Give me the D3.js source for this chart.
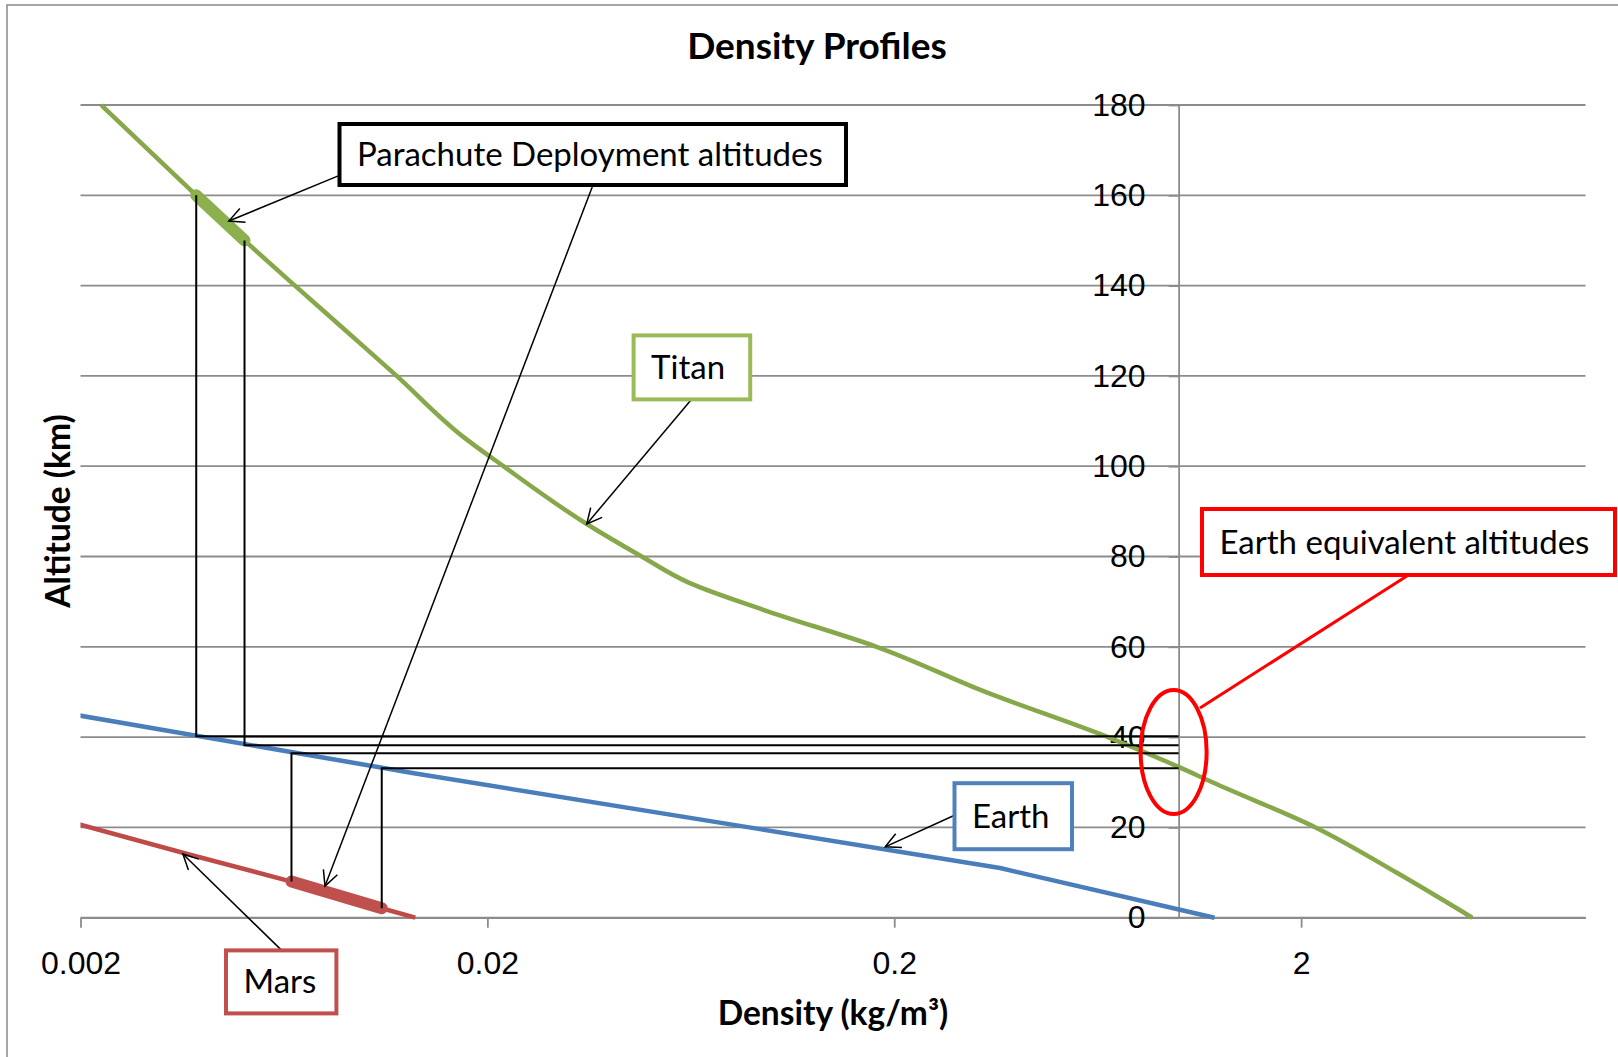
<!DOCTYPE html>
<html>
<head>
<meta charset="utf-8">
<script src="https://cdnjs.cloudflare.com/ajax/libs/d3/7.8.5/d3.min.js"></script>
<style>
    body { margin: 0; background: #fff; }
    svg { display: block; font-family: Lato, "Open Sans", sans-serif; }
</style>
</head>
<body>
<div id="chart"></div>
<script>
// Density profiles of Titan, Earth and Mars (log density vs altitude)

const xTicks = [0.002, 0.02, 0.2, 2];
const xTickLabels = ['0.002', '0.02', '0.2', '2'];
const yTicks = [0, 20, 40, 60, 80, 100, 120, 140, 160, 180];

const titanAlt = [180, 160, 150, 140, 130, 120, 106.5, 100, 87.2, 80, 74.1, 68.2, 60, 50, 40, 33.4, 30, 20, 10, 0];
const titanDensity = [0.00225, 0.00385, 0.00506, 0.00673, 0.00898, 0.01197, 0.01745, 0.0219, 0.0351, 0.0479, 0.0629, 0.0953, 0.181, 0.335, 0.67, 1.0, 1.21, 2.17, 3.43, 5.27];

const earthAlt = [0, 11, 20, 32, 47];
const earthDensity = [1.225, 0.364, 0.088, 0.0132, 0.00143];

const marsAlt = [0, 2.1, 8, 14, 22];
const marsDensity = [0.0133, 0.011, 0.0066, 0.0037, 0.00175];

// parachute deployment points and their Earth equivalent altitudes
const deployPlanet = ['Titan', 'Titan', 'Mars', 'Mars'];
const deployAlt = [160, 150, 8, 2.1];
const deployDensity = [0.00385, 0.00506, 0.0066, 0.011];
const earthEquivAlt = [40.2, 38.2, 36.4, 33.1];

const W = 1618, H = 1057;
const plot = { left: 80.5, right: 1585.5, top: 105, bottom: 917.7 };

const svg = d3.select('#chart').append('svg')
    .attr('width', W)
    .attr('height', H);

const x = d3.scaleLog().domain([0.002, 10]).range([plot.left, plot.right]);
const y = d3.scaleLinear().domain([0, 180]).range([plot.bottom, plot.top]);

const gridColor = '#8c8c8c';

// chart border (cropped on the right / bottom)
svg.append('path')
    .attr('d', `M7,${H} L7,5 L${W},5`)
    .attr('fill', 'none')
    .attr('stroke', '#898989')
    .attr('stroke-width', 1.5);

// horizontal gridlines
svg.append('g')
    .selectAll('line')
    .data(yTicks)
    .enter()
    .append('line')
    .attr('x1', plot.left)
    .attr('x2', plot.right)
    .attr('y1', d => y(d))
    .attr('y2', d => y(d))
    .attr('stroke', gridColor)
    .attr('stroke-width', 1.8);

// x axis
const xAxis = svg.append('g')
    .attr('transform', `translate(0,${y(0)})`)
    .call(d3.axisBottom(x)
        .tickValues(xTicks)
        .tickFormat((d, i) => xTickLabels[i])
        .tickSize(10)
        .tickSizeOuter(0)
        .tickPadding(24));
xAxis.selectAll('line, path').attr('stroke', gridColor).attr('stroke-width', 1.8);
xAxis.selectAll('text').attr('font-size', 32).attr('fill', '#000').attr('font-family', null);

// y axis crossing at 1 kg/m3
const yAxis = svg.append('g')
    .attr('transform', `translate(${x(1)},0)`)
    .call(d3.axisLeft(y)
        .tickValues(yTicks)
        .tickSize(10)
        .tickSizeOuter(0)
        .tickPadding(23));
yAxis.selectAll('line, path').attr('stroke', gridColor).attr('stroke-width', 1.8);
yAxis.selectAll('text').attr('font-size', 32).attr('fill', '#000').attr('font-family', null);

// clip for the curves
svg.append('clipPath')
    .attr('id', 'plot-clip')
    .append('rect')
    .attr('x', plot.left)
    .attr('y', plot.top - 10)
    .attr('width', plot.right - plot.left)
    .attr('height', plot.bottom - plot.top + 20);

const line = d3.line()
    .x(d => x(d.density))
    .y(d => y(d.alt));

const smoothLine = d3.line()
    .x(d => x(d.density))
    .y(d => y(d.alt))
    .curve(d3.curveMonotoneY);

const zip = (alts, dens) => alts.map((a, i) => ({ alt: a, density: dens[i] }));

const series = [
    { name: 'Earth', data: zip(earthAlt, earthDensity), color: '#4A7EBB', gen: line },
    { name: 'Mars', data: zip(marsAlt, marsDensity), color: '#BE4B48', gen: line },
    { name: 'Titan', data: zip(titanAlt, titanDensity), color: '#87A84A', gen: smoothLine }
];

const curves = svg.append('g').attr('clip-path', 'url(#plot-clip)');
series.forEach(s => {
    curves.append('path')
        .datum(s.data)
        .attr('d', s.gen)
        .attr('fill', 'none')
        .attr('stroke', s.color)
        .attr('stroke-width', 4.5)
        .attr('stroke-linejoin', 'round');
});

// thick highlight of deployment ranges
const highlight = [
    { data: zip(deployAlt.slice(0, 2), deployDensity.slice(0, 2)), color: '#8DB04F' },
    { data: zip(deployAlt.slice(2), deployDensity.slice(2)), color: '#C0504D' }
];
highlight.forEach(h => {
    svg.append('path')
        .datum(h.data)
        .attr('d', line)
        .attr('fill', 'none')
        .attr('stroke', h.color)
        .attr('stroke-width', 12)
        .attr('stroke-linecap', 'round');
});

// drop lines to Earth curve, then across to the axis
const drops = svg.append('g');
deployAlt.forEach((a, i) => {
    const px = x(deployDensity[i]);
    const ey = y(earthEquivAlt[i]);
    drops.append('path')
        .attr('d', `M${px},${y(a)} L${px},${ey} L${x(1)},${ey}`)
        .attr('fill', 'none')
        .attr('stroke', '#000')
        .attr('stroke-width', 2);
});

// arrow marker
svg.append('defs').append('marker')
    .attr('id', 'arrow')
    .attr('markerUnits', 'userSpaceOnUse')
    .attr('viewBox', '-1 -9 18 18')
    .attr('markerWidth', 18)
    .attr('markerHeight', 18)
    .attr('refX', 15)
    .attr('refY', 0)
    .attr('orient', 'auto')
    .append('path')
    .attr('d', 'M0,-7.5L15,0L0,7.5')
    .attr('fill', 'none')
    .attr('stroke', '#000')
    .attr('stroke-width', 1.5);

const arrows = [
    { from: [339.5, 175.4], to: { density: 0.00463, alt: 154.3 } },
    { from: [593, 185], to: { density: 0.00798, alt: 7.0 } },
    { from: [691.4, 399.4], to: { density: 0.0351, alt: 87.2 } },
    { from: [954.5, 815.2], to: { density: 0.19, alt: 15.7 } },
    { from: [281.7, 950.4], to: { density: 0.00357, alt: 14.1 } }
];
arrows.forEach(a => {
    svg.append('line')
        .attr('x1', a.from[0])
        .attr('y1', a.from[1])
        .attr('x2', x(a.to.density))
        .attr('y2', y(a.to.alt))
        .attr('stroke', '#000')
        .attr('stroke-width', 1.5)
        .attr('marker-end', 'url(#arrow)');
});

// red ellipse around the Earth equivalent altitudes
svg.append('ellipse')
    .attr('cx', x(1) - 5)
    .attr('cy', y(36.7))
    .attr('rx', 33)
    .attr('ry', 62)
    .attr('fill', 'none')
    .attr('stroke', '#FF0000')
    .attr('stroke-width', 4);

svg.append('line')
    .attr('x1', 1200).attr('y1', 708)
    .attr('x2', 1408.5).attr('y2', 575)
    .attr('stroke', '#FF0000')
    .attr('stroke-width', 3);

// callout boxes
const notes = [
    { text: 'Parachute Deployment altitudes', box: [339.5, 124, 506.5, 61], color: '#000000' },
    { text: 'Titan', box: [633.6, 335.4, 116.6, 64], color: '#9BBB59' },
    { text: 'Earth', box: [954.5, 783.2, 117.5, 66], color: '#4F81BD' },
    { text: 'Mars', box: [226, 950.4, 110.4, 63], color: '#C0504D' },
    { text: 'Earth equivalent altitudes', box: [1202, 509, 413, 66], color: '#FF0000' }
];
notes.forEach(n => {
    const [bx, by, bw, bh] = n.box;
    svg.append('rect')
        .attr('x', bx).attr('y', by)
        .attr('width', bw).attr('height', bh)
        .attr('fill', '#fff')
        .attr('stroke', n.color)
        .attr('stroke-width', 4);
    svg.append('text')
        .attr('x', bx + 17.5)
        .attr('y', by + bh / 2 + 11.5)
        .attr('font-size', 33)
        .attr('fill', '#000')
        .text(n.text);
});

// titles
svg.append('text')
    .attr('x', 817)
    .attr('y', 59)
    .attr('text-anchor', 'middle')
    .attr('font-size', 37)
    .attr('font-weight', 'bold')
    .text('Density Profiles');

svg.append('text')
    .attr('x', 833)
    .attr('y', 1025)
    .attr('text-anchor', 'middle')
    .attr('font-size', 33.5)
    .attr('font-weight', 'bold')
    .text('Density (kg/m³)');

svg.append('text')
    .attr('transform', 'translate(70,511) rotate(-90)')
    .attr('text-anchor', 'middle')
    .attr('font-size', 33.5)
    .attr('font-weight', 'bold')
    .text('Altitude (km)');
</script>
</body>
</html>
